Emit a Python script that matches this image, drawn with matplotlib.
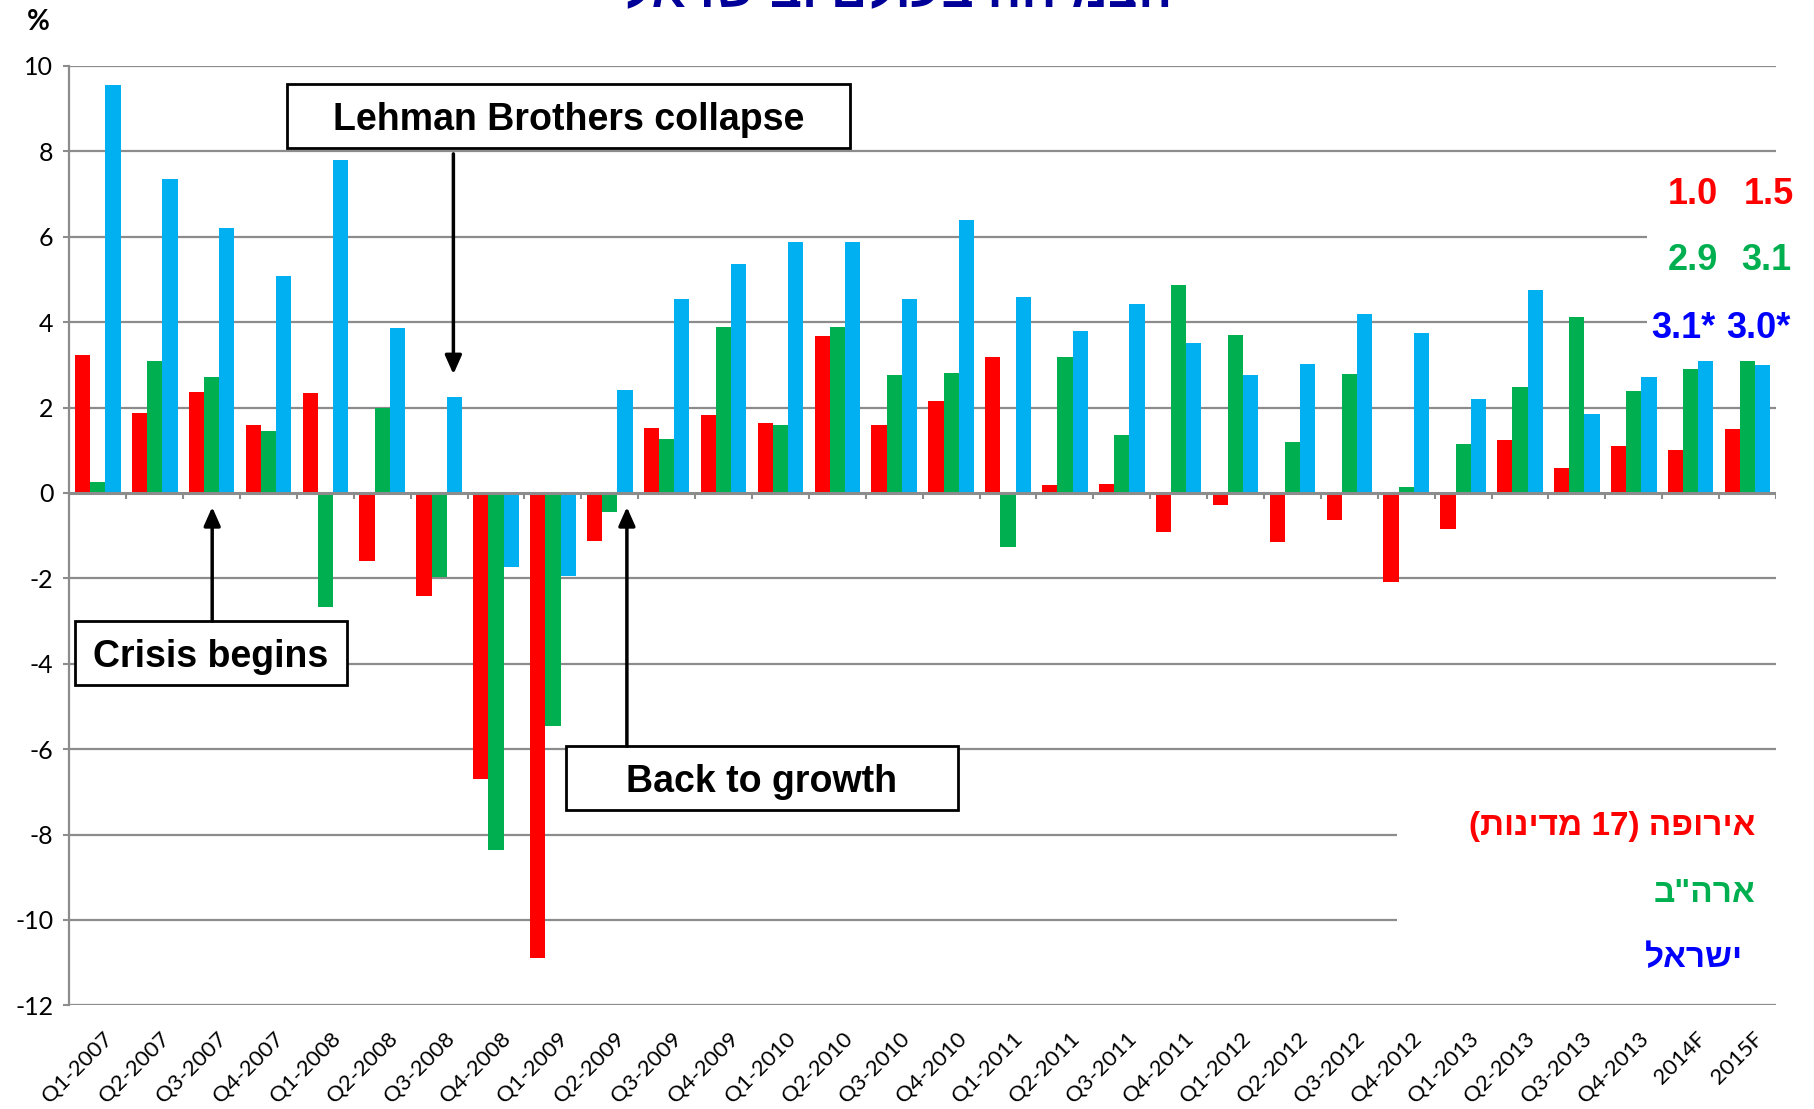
import re
import numpy as np
import matplotlib
matplotlib.use("Agg")
import matplotlib.pyplot as plt
from matplotlib.patches import Rectangle
from matplotlib.transforms import ScaledTranslation

plt.rcParams["axes.unicode_minus"] = False

# ---- data -------------------------------------------------------------
categories = ["Q1-2007", "Q2-2007", "Q3-2007", "Q4-2007",
              "Q1-2008", "Q2-2008", "Q3-2008", "Q4-2008",
              "Q1-2009", "Q2-2009", "Q3-2009", "Q4-2009",
              "Q1-2010", "Q2-2010", "Q3-2010", "Q4-2010",
              "Q1-2011", "Q2-2011", "Q3-2011", "Q4-2011",
              "Q1-2012", "Q2-2012", "Q3-2012", "Q4-2012",
              "Q1-2013", "Q2-2013", "Q3-2013", "Q4-2013",
              "2014F", "2015F"]

europe = [3.22, 1.87, 2.37, 1.60, 2.35, -1.60, -2.42, -6.71,
          -10.88, -1.12, 1.51, 1.83, 1.64, 3.68, 1.59, 2.15,
          3.19, 0.18, 0.22, -0.91, -0.28, -1.14, -0.64, -2.09,
          -0.85, 1.24, 0.59, 1.11, 1.0, 1.5]

usa = [0.25, 3.10, 2.72, 1.46, -2.67, 2.00, -1.97, -8.35,
       -5.46, -0.44, 1.27, 3.88, 1.59, 3.88, 2.77, 2.80,
       -1.27, 3.19, 1.36, 4.87, 3.71, 1.19, 2.79, 0.13,
       1.14, 2.47, 4.13, 2.38, 2.9, 3.1]

israel = [9.55, 7.35, 6.21, 5.07, 7.79, 3.86, 2.25, -1.73,
          -1.95, 2.40, 4.54, 5.35, 5.87, 5.87, 4.55, 6.39,
          4.60, 3.79, 4.42, 3.51, 2.77, 3.02, 4.19, 3.74,
          2.20, 4.76, 1.84, 2.72, 3.1, 3.0]

series_names = ["אירופה (17 מדינות)", "ארה\"ב", "ישראל"]
title_text = "הצמיחה בעולם ובישראל"
y_ticks = list(range(-12, 11, 2))

# ---- style ------------------------------------------------------------
RED, GREEN, BLUE = "#FF0000", "#00B050", "#00B0F0"
TEXT_BLUE = "#0000FF"
GRID = "#8C8C8C"
BOLD = ["Liberation Sans", "DejaVu Sans"]
W, H = 1814, 1109


def visual(s):
    """Lay out right-to-left Hebrew text in display order."""
    out = s[::-1]
    out = re.sub(r"\d+", lambda m: m.group(0)[::-1], out)
    return out.translate(str.maketrans("()", ")("))


def px(x, y):
    return x / W, 1 - y / H


fig = plt.figure(figsize=(W / 100, H / 100), dpi=100)
ax = fig.add_axes([69.4 / W, (H - 1005.4) / H, (1776 - 69.4) / W, (1005.4 - 65.9) / H])

n = len(categories)
x = np.arange(n)
bw = 0.267
ax.bar(x - bw, europe, bw, color=RED, zorder=2)
ax.bar(x, usa, bw, color=GREEN, zorder=2)
ax.bar(x + bw, israel, bw, color=BLUE, zorder=2)

ax.set_xlim(-0.5, n - 0.5)
ax.set_ylim(-12, 10)

# horizontal gridlines (some are hidden behind the text blocks on the right)
grid_end = {6: 27.23, 4: 27.23, -8: 22.84, -10: 22.84}
for yv in y_ticks:
    if yv == 0:
        continue
    ax.hlines(yv, -0.5, grid_end.get(yv, n - 0.5), color=GRID, lw=1.6, zorder=1)

# zero line with category boundary ticks
ax.axhline(0, color=GRID, lw=2.2, zorder=3)
ax.vlines(np.arange(0.5, n, 1.0), -0.15, 0, color=GRID, lw=1.5, zorder=3)

for side in ("top", "right", "bottom"):
    ax.spines[side].set_visible(False)
ax.spines["left"].set_color(GRID)
ax.spines["left"].set_linewidth(1.6)

ax.set_yticks(y_ticks)
ax.set_yticklabels([str(v) for v in y_ticks], family="Lato", fontsize=18)
ax.tick_params(axis="y", length=4.5, width=1.5, color=GRID, pad=7)

ax.set_xticks(x)
ax.set_xticklabels(categories, family="Lato", fontsize=16, rotation=45,
                   ha="right", va="center", rotation_mode="anchor")
ax.tick_params(axis="x", length=0, pad=22)
shift = ScaledTranslation(0.12, 0, fig.dpi_scale_trans)
for lab in ax.get_xticklabels():
    lab.set_transform(lab.get_transform() + shift)

# ---- event annotations --------------------------------------------------
events = [
    ("Lehman Brothers collapse", (3.32, 8.08, 13.22, 9.58), (6.25, 7.94), (6.25, 2.78)),
    ("Crisis begins", (-0.40, -4.50, 4.38, -3.00), (2.01, -3.00), (2.01, -0.33)),
    ("Back to growth", (8.23, -7.43, 15.12, -5.93), (9.30, -5.93), (9.30, -0.33)),
]
for label, (x0, y0, x1, y1), start, tip in events:
    ax.add_patch(Rectangle((x0, y0), x1 - x0, y1 - y0, facecolor="white",
                           edgecolor="black", lw=2, zorder=5, clip_on=False))
    ax.text((x0 + x1) / 2, (y0 + y1) / 2 - 0.1, label, ha="center", va="center",
            family=BOLD, weight="bold", fontsize=27, zorder=6)
    ax.annotate("", xy=tip, xytext=start, zorder=6,
                arrowprops=dict(arrowstyle="-|>,head_length=0.45,head_width=0.2",
                                color="black", lw=2.5, mutation_scale=25,
                                shrinkA=0, shrinkB=0))

# ---- forecast values for 2014F / 2015F -------------------------------------
val_x = [(1692.6, 1769.0), (1692.6, 1766.6), (1683.0, 1758.5)]
val_y = [194, 261, 328]
rows = [(europe, RED, ""), (usa, GREEN, ""), (israel, TEXT_BLUE, "*")]
for (vals, col, mark), xs, yy in zip(rows, val_x, val_y):
    for v, xx in zip(vals[-2:], xs):
        fig.text(*px(xx, yy), f"{v:.1f}{mark}", color=col, ha="center", va="center",
                 family=BOLD, weight="bold", fontsize=26)

# ---- series names ------------------------------------------------------------
name_pos = [(1755, 826), (1755, 893), (1743, 959)]
for name, col, (xx, yy) in zip(series_names, [RED, GREEN, TEXT_BLUE], name_pos):
    fig.text(*px(xx, yy), visual(name), color=col, ha="right", va="center",
             family=BOLD, weight="bold", fontsize=24)

fig.text(*px(38, 22), "%", ha="center", va="center", family="Lato",
         weight="bold", fontsize=20)

fig.text(*px(898, 7), visual(title_text), color="#000099", ha="center",
         va="baseline", family=BOLD, weight="bold", fontsize=36)

fig.savefig("out.png", dpi=100)
